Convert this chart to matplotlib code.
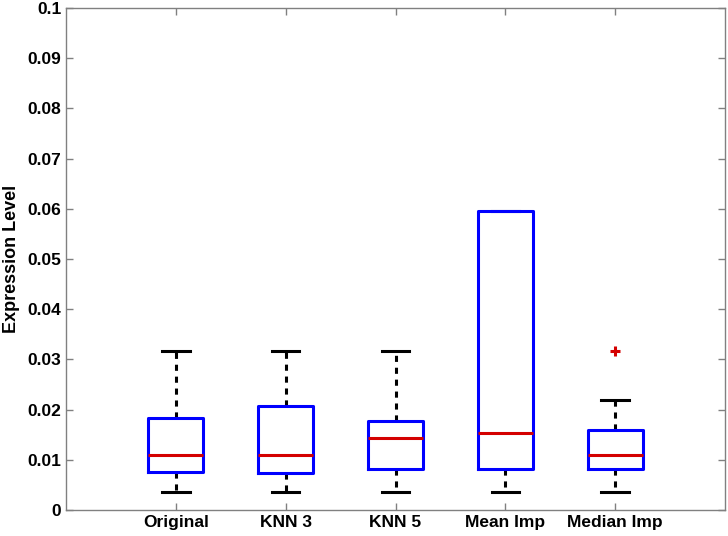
import matplotlib
matplotlib.use("Agg")
import matplotlib.pyplot as plt
from matplotlib.ticker import FuncFormatter

categories = ["Original", "KNN 3", "KNN 5", "Mean Imp", "Median Imp"]
whisker_low = [0.0035, 0.0035, 0.0035, 0.0035, 0.0035]
q1 = [0.0075, 0.0073, 0.0082, 0.0082, 0.0082]
medians = [0.0110, 0.0110, 0.0143, 0.0153, 0.0110]
q3 = [0.0183, 0.0208, 0.0177, 0.0596, 0.0160]
whisker_high = [0.0317, 0.0317, 0.0317, 0.0596, 0.0220]
outliers = [[], [], [], [], [0.0316]]
yticks = [0, 0.01, 0.02, 0.03, 0.04, 0.05, 0.06, 0.07, 0.08, 0.09, 0.1]

plt.rcParams['font.family'] = ['Liberation Sans', 'DejaVu Sans']

fig = plt.figure(figsize=(7.28, 5.36), dpi=100)
ax = fig.add_axes([66/728, 1-510/536, (725-66)/728, (510-8)/536])

stats = []
for i, name in enumerate(categories):
    stats.append(dict(label=name, whislo=whisker_low[i], q1=q1[i], med=medians[i],
                      q3=q3[i], whishi=whisker_high[i], fliers=outliers[i]))

ax.bxp(stats, positions=range(1, len(categories)+1), widths=0.5,
       boxprops=dict(color='#0000ff', linewidth=2.2, zorder=4),
       medianprops=dict(color='#d40000', linewidth=2.2, zorder=5),
       whiskerprops=dict(color='black', linewidth=2.2, linestyle=(0, (2.0, 1.9)), zorder=2),
       capprops=dict(color='black', linewidth=2.2, zorder=2),
       flierprops=dict(marker='+', markeredgecolor='#d40000', markersize=7, markeredgewidth=2.2),
       capwidths=0.25)

ax.set_xlim(0, 6)
ax.set_ylim(0, 0.1)
ax.set_yticks(yticks)
ax.yaxis.set_major_formatter(FuncFormatter(lambda v, p: '%g' % round(v, 4)))
ax.set_xticks(range(1, len(categories)+1))
ax.set_xticklabels(categories)
ax.set_ylabel("Expression Level", fontsize=13, fontweight='bold', labelpad=5)
ax.tick_params(direction='in', top=True, right=True, length=5, width=1, color='#808080',
               labelsize=12.5, pad=3.5)
for lab in ax.get_xticklabels() + ax.get_yticklabels():
    lab.set_fontweight('bold')
for sp in ax.spines.values():
    sp.set_color('#808080')
    sp.set_linewidth(1)

fig.savefig("out.png", dpi=100)
